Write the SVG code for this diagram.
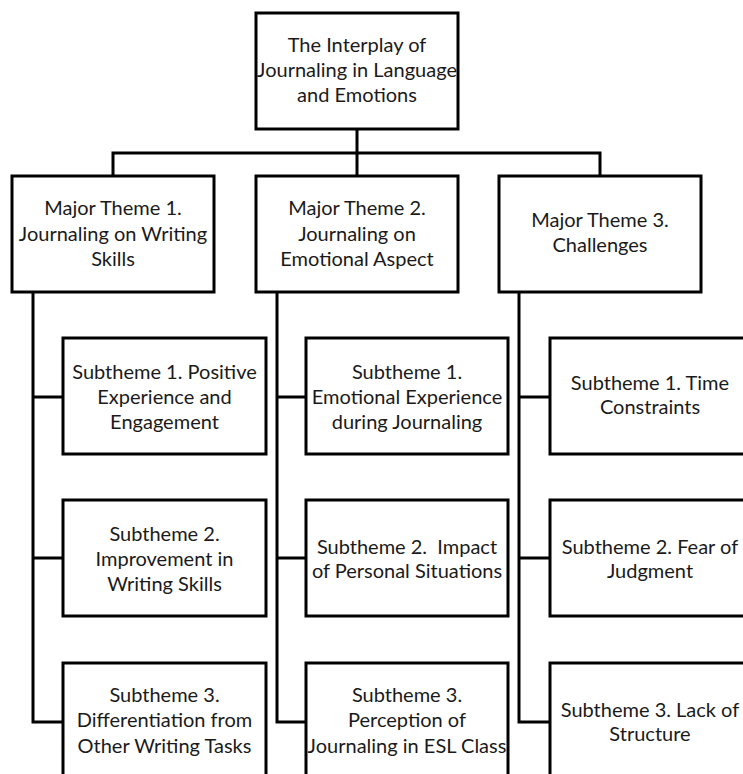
<svg xmlns="http://www.w3.org/2000/svg" width="743" height="774" viewBox="0 0 743 774">
<style>
rect{fill:#fff;stroke:#000;stroke-width:3}
.c{fill:none;stroke:#000;stroke-width:3}
text{font-family:Lato,"Liberation Sans",sans-serif;font-size:20px;fill:#1a1a1a;text-anchor:middle}
</style>
<rect x="0" y="0" width="743" height="774" style="stroke:none"/>
<g id="connectors">
<path class="c" d="M357 129V176M113 176V153H600V176"/>
<path class="c" d="M33 292V722H63M33 397H63M33 558H63"/>
<path class="c" d="M277 292V722H306M277 397H306M277 558H306"/>
<path class="c" d="M519 292V722H550M519 397H550M519 558H550"/>
</g>
<g id="root"><rect x="256" y="13" width="202" height="116"/>
<text x="357" y="52">The Interplay of</text><text x="357" y="77">Journaling in Language</text><text x="357" y="102">and Emotions</text></g>
<g id="major1"><rect x="12" y="176" width="202" height="116"/>
<text x="113" y="215">Major Theme 1.</text><text x="113" y="241">Journaling on Writing</text><text x="113" y="266">Skills</text></g>
<g id="major2"><rect x="256" y="176" width="202" height="116"/>
<text x="357" y="215">Major Theme 2.</text><text x="357" y="241">Journaling on</text><text x="357" y="266">Emotional Aspect</text></g>
<g id="major3"><rect x="499" y="176" width="202" height="116"/>
<text x="600" y="227">Major Theme 3.</text><text x="600" y="252">Challenges</text></g>
<g id="s11"><rect x="63" y="338" width="203" height="116"/>
<text x="164.5" y="379">Subtheme 1. Positive</text><text x="164.5" y="404">Experience and</text><text x="164.5" y="429">Engagement</text></g>
<g id="s12"><rect x="63" y="500" width="203" height="116"/>
<text x="164.5" y="541">Subtheme 2.</text><text x="164.5" y="566">Improvement in</text><text x="164.5" y="591">Writing Skills</text></g>
<g id="s13"><rect x="63" y="663" width="203" height="120"/>
<text x="164.5" y="702">Subtheme 3.</text><text x="164.5" y="727">Differentiation from</text><text x="164.5" y="753">Other Writing Tasks</text></g>
<g id="s21"><rect x="306" y="338" width="202" height="116"/>
<text x="407" y="379">Subtheme 1.</text><text x="407" y="404">Emotional Experience</text><text x="407" y="429">during Journaling</text></g>
<g id="s22"><rect x="306" y="500" width="202" height="116"/>
<text x="407" y="554" xml:space="preserve">Subtheme 2.  Impact</text><text x="407" y="578">of Personal Situations</text></g>
<g id="s23"><rect x="306" y="663" width="202" height="120"/>
<text x="407" y="702">Subtheme 3.</text><text x="407" y="727">Perception of</text><text x="407" y="753">Journaling in ESL Class</text></g>
<g id="s31"><rect x="550" y="338" width="202" height="116"/>
<text x="650" y="390">Subtheme 1. Time</text><text x="650" y="414">Constraints</text></g>
<g id="s32"><rect x="550" y="500" width="202" height="116"/>
<text x="650" y="554">Subtheme 2. Fear of</text><text x="650" y="578">Judgment</text></g>
<g id="s33"><rect x="550" y="663" width="202" height="120"/>
<text x="650" y="717">Subtheme 3. Lack of</text><text x="650" y="741">Structure</text></g>
</svg>
